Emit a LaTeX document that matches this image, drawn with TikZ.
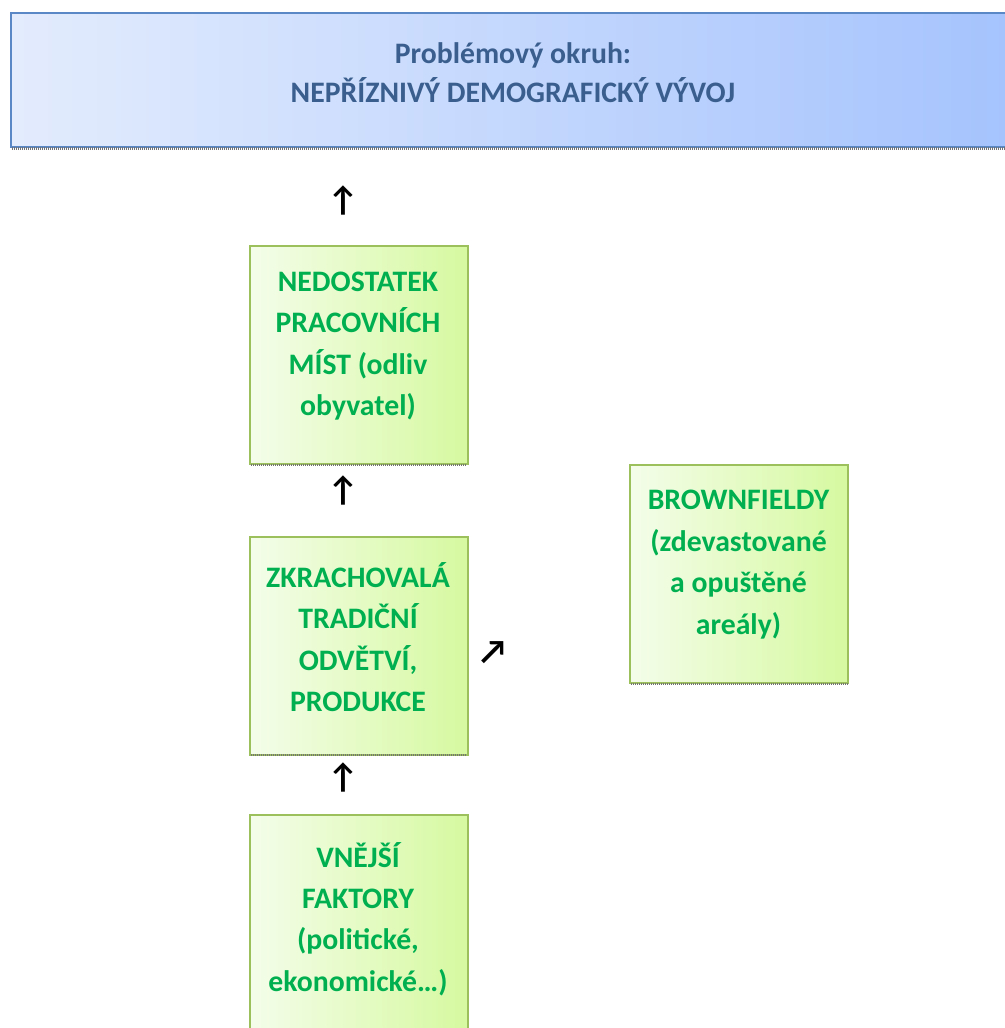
\documentclass[tikz,border=0pt]{standalone}
\usepackage{fontspec}
\setmainfont{Carlito}
\definecolor{hdrL}{HTML}{E3ECFD}
\definecolor{hdrR}{HTML}{A5C3FD}
\definecolor{hdrBorder}{HTML}{5A88C6}
\definecolor{hdrText}{HTML}{3A5F8E}
\definecolor{boxL}{HTML}{F4FDEA}
\definecolor{boxR}{HTML}{D6F9A0}
\definecolor{boxBorder}{HTML}{9CC05C}
\definecolor{boxText}{HTML}{00B050}
\tikzset{
  hdrbox/.style={draw=hdrBorder, line width=1.5pt, left color=hdrL, right color=hdrR,
    minimum width=750pt, minimum height=100.5pt, inner sep=0pt, anchor=north west},
  greenbox/.style={draw=boxBorder, line width=1.5pt, left color=boxL, right color=boxR,
    minimum width=163.5pt, minimum height=163.5pt, inner sep=0pt, anchor=north west},
  hdrtext/.style={text=hdrText, align=center, font=\fontsize{22.3}{29.25}\selectfont\bfseries, inner sep=0pt},
  boxtext/.style={text=boxText, align=center, font=\fontsize{22.3}{31.1}\selectfont\bfseries, inner sep=0pt},
  shadowline/.style={draw=black!55, line width=2pt, dash pattern=on 0.75pt off 0.75pt},
  arrowglyph/.style={font=\bfseries\fontsize{26}{26}\selectfont, inner sep=0pt, text=black}
}
\begin{document}
\begin{tikzpicture}[x=0.75pt,y=-0.75pt]
\useasboundingbox (0,0) rectangle (1005,1028);
\clip (0,0) rectangle (1005,1028);
\fill[white] (0,0) rectangle (1005,1028);

% header
\node[hdrbox] (hdr) at (10,12) {};
\draw[shadowline] (12,148.5) -- (1010,148.5);
\node[hdrtext] (hdrt) at (513,72.5) {Problémový okruh:\\NEPŘÍZNIVÝ DEMOGRAFICKÝ VÝVOJ};

% boxes
\node[greenbox] (b1) at (249,245) {};
\draw[shadowline] (251,465) -- (467,465);
\node[boxtext] (t1) at (358,346) {NEDOSTATEK\\PRACOVNÍCH\\MÍST (odliv\\obyvatel)};

\node[greenbox] (b2) at (249,536) {};
\draw[shadowline] (251,755) -- (467,755);
\node[boxtext] (t2) at (358,637) {ZKRACHOVALÁ\\TRADIČNÍ\\ODVĚTVÍ,\\PRODUKCE};

\node[greenbox] (b3) at (629,464) {};
\draw[shadowline] (631,684) -- (848,684);
\node[boxtext] (t3) at (738.5,564.5) {BROWNFIELDY\\(zdevastované\\a opuštěné\\areály)};

\node[greenbox, minimum height=180pt] (b4) at (249,814) {};
\node[boxtext] (t4) at (358,919) {VNĚJŠÍ\\FAKTORY\\(politické,\\ekonomické…)};

% arrow glyphs
\node[arrowglyph] (a1) at (343,200) {↑};
\node[arrowglyph] (a2) at (343,490) {↑};
\node[arrowglyph] (a3) at (343,777) {↑};
\node[arrowglyph] (a4) at (493,653) {↗};
\end{tikzpicture}
\end{document}
